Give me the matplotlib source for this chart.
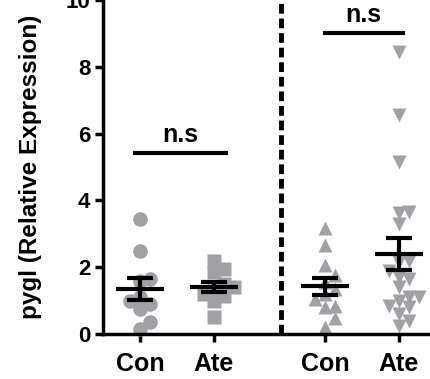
import numpy as np
import matplotlib
matplotlib.use("Agg")
import matplotlib.pyplot as plt

plt.rcParams["font.family"] = ["Liberation Sans", "DejaVu Sans"]
plt.rcParams["font.weight"] = "bold"

# data
tick_labels = ["Con", "Ate", "Con", "Ate"]
con_1 = [3.45, 2.5, 1.65, 1.6, 1.1, 1.0, 0.9, 0.75, 0.35, 0.15]
ate_1 = [2.2, 1.95, 1.85, 1.5, 1.4, 1.3, 1.2, 1.15, 1.0, 0.5]
con_2 = [3.17, 2.66, 2.07, 1.77, 1.56, 1.35, 1.2, 1.05, 0.85, 0.8, 0.48, 0.2]
ate_2 = [8.45, 6.55, 5.15, 3.65, 3.62, 3.3, 2.2, 2.15, 1.9, 1.7, 1.65, 1.4,
         1.1, 1.1, 1.0, 0.85, 0.8, 0.6, 0.4, 0.25]
sig_labels = ["n.s", "n.s"]

GREY = "#a0a0a5"
positions = [0, 1, 2.5, 3.5]
markers = ["o", "s", "^", "v"]


def swarm_offsets(values, x_px=74.0, y_px=33.4, sep=10.0):
    """Simple deterministic beeswarm: returns x offsets in data units."""
    values = np.asarray(values, dtype=float)
    offsets = np.zeros(len(values))
    placed = []
    for i in np.argsort(values):
        y = values[i] * y_px
        k = 0
        while True:
            cands = [0.0] if k == 0 else [k * sep, -k * sep]
            ok = None
            for dx in cands:
                if all((dx - px) ** 2 + (y - py) ** 2 >= sep ** 2 for px, py in placed):
                    ok = dx
                    break
            if ok is not None:
                placed.append((ok, y))
                offsets[i] = ok / x_px
                break
            k += 1
    return offsets


fig = plt.figure(figsize=(4.3, 3.79), dpi=100)
ax = fig.add_axes([0.2395, 0.1187, 0.7605, 0.8813])

for data, pos, m in zip([con_1, ate_1, con_2, ate_2], positions, markers):
    vals = np.array(data)
    dx = swarm_offsets(vals)
    ax.plot(pos + dx, vals, ls="none", marker=m, ms=10.5, color=GREY,
            mec="none", clip_on=False, zorder=2)
    mean = vals.mean()
    sem = vals.std(ddof=1) / np.sqrt(len(vals))
    ax.hlines(mean, pos - 0.33, pos + 0.33, color="black", lw=3, zorder=4)
    ax.vlines(pos, mean - sem, mean + sem, color="black", lw=3, zorder=4)
    ax.hlines([mean - sem, mean + sem], pos - 0.18, pos + 0.18,
              color="black", lw=3, zorder=4)

# group separator
ax.axvline(1.9, color="black", lw=3.5, ls=(0, (2.0, 1.0)), zorder=3)

# significance bars
for (x0, x1, y), lab in zip([(-0.1, 1.19, 5.42), (2.47, 3.58, 9.0)], sig_labels):
    ax.plot([x0, x1], [y, y], color="black", lw=3, solid_capstyle="butt")
    ax.text((x0 + x1) / 2, y + 0.18, lab, ha="center", va="bottom",
            fontsize=18, fontweight="bold")

ax.set_xlim(-0.5, 3.92)
ax.set_ylim(0, 10)
ax.set_yticks([0, 2, 4, 6, 8, 10])
ax.set_xticks(positions)
ax.set_xticklabels(tick_labels, fontsize=18, fontweight="bold")
ax.tick_params(axis="y", labelsize=16, width=2.5, length=6, pad=3)
ax.tick_params(axis="x", width=2.5, length=6, pad=7)
for s in ["top", "right"]:
    ax.spines[s].set_visible(False)
for s in ["left", "bottom"]:
    ax.spines[s].set_linewidth(2.5)

ax.set_ylabel("pygl (Relative Expression)", fontsize=17.5, fontweight="bold")
ax.yaxis.set_label_coords(-0.187, 0.5)

fig.savefig("out.png", dpi=100)
